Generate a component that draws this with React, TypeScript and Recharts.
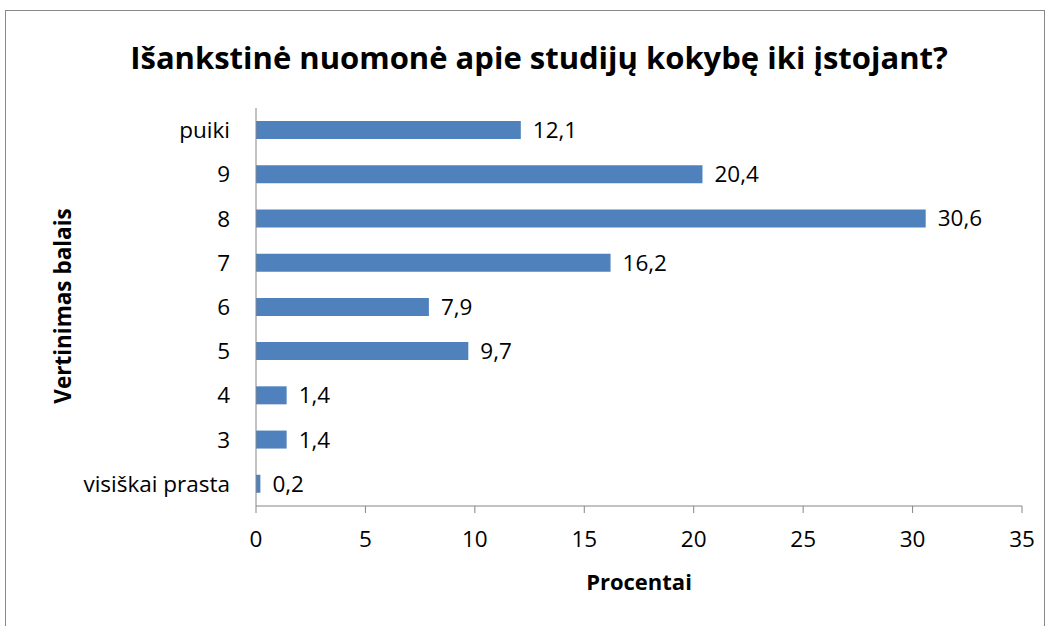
import React from 'react';
import { BarChart, Bar, XAxis, YAxis, LabelList } from 'recharts';

const categories = ['puiki', '9', '8', '7', '6', '5', '4', '3', 'visiškai prasta'];
const values = [12.1, 20.4, 30.6, 16.2, 7.9, 9.7, 1.4, 1.4, 0.2];
const xTicks = [0, 5, 10, 15, 20, 25, 30, 35];

const data = categories.map((c, i) => ({ name: c, value: values[i] }));

const FONT = '"Open Sans", sans-serif';
const AXIS = '#868686';
const TICK_FS = 22.5;

export default function App() {
  return (
    <div style={{ position: 'absolute', left: 0, top: 0, width: 1052, height: 626, background: '#fff', fontFamily: FONT }}>
      <div style={{ position: 'absolute', left: 5, top: 10, width: 1040, height: 640, border: '1px solid #888', boxSizing: 'border-box' }} />
      <div style={{ position: 'absolute', left: 0, top: 0 }}>
        <BarChart
          width={1052}
          height={626}
          layout="vertical"
          data={data}
          margin={{ top: 108, right: 30, bottom: 80, left: 0 }}
          barCategoryGap={13}
        >
          <text x={539} y={57} textAnchor="middle" dominantBaseline="central" fontFamily={FONT} fontWeight="bold" fontSize={31} fill="#000">
            Išankstinė nuomonė apie studijų kokybę iki įstojant?
          </text>
          <text x={62} y={306} textAnchor="middle" dominantBaseline="central" fontFamily={FONT} fontWeight="bold" fontSize={22.5} fill="#000" transform="rotate(-90 62 306)">
            Vertinimas balais
          </text>
          <text x={639} y={581} textAnchor="middle" dominantBaseline="central" fontFamily={FONT} fontWeight="bold" fontSize={22} fill="#000">
            Procentai
          </text>
          <XAxis
            type="number"
            domain={[0, 35]}
            ticks={xTicks}
            interval={0}
            height={40}
            stroke={AXIS}
            tickSize={7}
            tickMargin={18}
            tick={{ fill: '#000', fontSize: TICK_FS, fontFamily: FONT }}
          />
          <YAxis
            type="category"
            dataKey="name"
            width={256}
            stroke={AXIS}
            tickLine={false}
            tickSize={0}
            tickMargin={26}
            interval={0}
            tick={{ fill: '#000', fontSize: TICK_FS, fontFamily: FONT }}
          />
          <Bar dataKey="value" fill="#4F81BD" barSize={18} isAnimationActive={false}>
            <LabelList
              dataKey="value"
              position="right"
              offset={12}
              formatter={(v: number) => String(v).replace('.', ',')}
              style={{ fill: '#000', fontSize: TICK_FS, fontFamily: FONT }}
            />
          </Bar>
        </BarChart>
      </div>
    </div>
  );
}
